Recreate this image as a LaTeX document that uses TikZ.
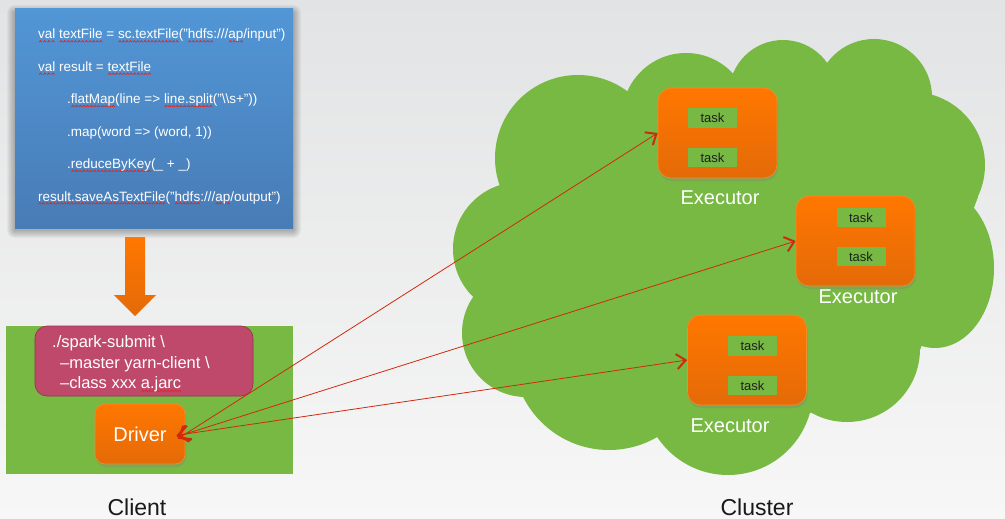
\documentclass[tikz,border=0pt]{standalone}
\usepackage{fontspec}
\setmainfont{Liberation Sans}
\usetikzlibrary{positioning,shadows,arrows.meta}

\definecolor{bgtop}{RGB}{226,227,228}
\definecolor{bgbot}{RGB}{247,247,247}
\definecolor{codetop}{RGB}{82,150,214}
\definecolor{codebot}{RGB}{72,124,182}
\definecolor{leafgreen}{RGB}{119,185,67}
\definecolor{boxorange}{RGB}{255,119,0}
\definecolor{boxorangedk}{RGB}{228,106,8}
\definecolor{boxedge}{RGB}{244,140,40}
\definecolor{submitred}{RGB}{191,73,107}
\definecolor{submitedge}{RGB}{150,48,80}
\definecolor{linkred}{RGB}{208,42,14}
\definecolor{spellred}{RGB}{225,35,30}
\definecolor{taskgray}{RGB}{30,34,30}

% wavy spell-check underline
\newsavebox\spellbox
\newcommand\spellwave[1]{\sbox\spellbox{#1}%
  \rlap{\raisebox{-3.5pt}[0pt][0pt]{\hbox to \wd\spellbox{\xleaders\hbox{\tikz[x=1pt,y=1pt]\draw[spellred,line width=.7pt] (0,0)--(1.4,1.6)--(2.8,0);}\hfil}}}%
  \usebox\spellbox}

\begin{document}
\begin{tikzpicture}[x=1pt, y=-1pt,
    codebox/.style={minimum width=278, minimum height=219, inner sep=0pt,
        top color=codetop, bottom color=codebot},
    codeline/.style={anchor=base west, inner sep=0pt, text=white,
        font=\fontsize{13.5}{16}\selectfont},
    submit/.style={minimum width=218, minimum height=70, inner sep=0pt,
        rounded corners=12pt, fill=submitred, draw=submitedge, line width=.6pt},
    submitline/.style={anchor=base west, inner sep=0pt, text=white,
        font=\fontsize{16.5}{19}\selectfont},
    exec/.style={minimum width=119, minimum height=90, inner sep=0pt,
        rounded corners=13pt, top color=boxorange, bottom color=boxorangedk,
        draw=boxedge, line width=.6pt,
        drop shadow={shadow xshift=1pt, shadow yshift=-3pt, opacity=.3}},
    task/.style={fill=leafgreen, minimum width=49, minimum height=19.5,
        inner sep=0pt, text=taskgray, font=\fontsize{13}{15}\selectfont},
    execlabel/.style={anchor=base, inner sep=0pt, text=white,
        font=\fontsize{20}{24}\selectfont},
    place/.style={anchor=base, inner sep=0pt, text=black!90,
        font=\fontsize{23}{27}\selectfont},
    link/.style={draw=linkred, line width=.8pt, shorten <=-9pt,
        {Straight Barb[length=10pt,width=16pt,line width=2.2pt]}-{Straight Barb[length=9pt,width=15pt,line width=2pt]}}
]

% background
\shade[top color=bgtop, bottom color=bgbot] (0,0) rectangle (1005,519);

% program
\foreach \s in {1,...,8}
    \fill[black, opacity=.035, rounded corners=\s pt] (15-\s,9-\s+4) rectangle (293+\s,228+\s+2);
\node[codebox] (code) at (154,118.5) {};
\node[codeline] (cl1) at (38,39) {\spellwave{val} \spellwave{textFile} = \spellwave{sc.textFile}("\spellwave{hdfs}:///\spellwave{ap}/input")};
\node[codeline] (cl2) at (38,71.4) {\spellwave{val} result = \spellwave{textFile}};
\node[codeline] (cl3) at (67,103.8) {.\spellwave{flatMap}(line => \spellwave{line.split}("\textbackslash\textbackslash s+"))};
\node[codeline] (cl4) at (67,136.2) {.map(word => (word, 1))};
\node[codeline] (cl5) at (67,168.6) {.\spellwave{reduceByKey}(\_ + \_)};
\node[codeline] (cl6) at (38,201) {\spellwave{result.saveAsTextFile}("\spellwave{hdfs}:///\spellwave{ap}/output")};

% submit arrow
\shade[top color=boxorange, bottom color=boxorangedk]
    (125,237) -- (145,237) -- (145,295) -- (156,295) -- (135,316)
    -- (114,295) -- (125,295) -- cycle;

% client side
\node[fill=leafgreen, minimum width=287, minimum height=148, inner sep=0pt] (client) at (149.5,400) {};
\node[submit] (submit) at (144,361) {};
\node[submitline] (sub1) at (52,347.5) {./spark-submit \textbackslash};
\node[submitline] (sub2) at (60,368.5) {–master yarn-client \textbackslash};
\node[submitline] (sub3) at (60,388.5) {–class xxx \spellwave{a.jarc}};
\node[exec, minimum width=90, minimum height=60, rounded corners=10pt,
    text=white, font=\fontsize{20}{24}\selectfont] (driver) at (140,434) {Driver};

% cluster cloud
\fill[leafgreen] (500,185) -- (627,92) -- (733,73) -- (827,63) -- (932,95) -- (978,197)
    -- (920,350) -- (810,413) -- (657,437) -- (523,397) -- (473,297) -- cycle;
\fill[leafgreen] (578,158) circle[radius=83pt] (686,117) circle[radius=64pt]
    (783,94) circle[radius=54pt] (874,97) circle[radius=58pt]
    (912,165) circle[radius=73pt] (935,268) ellipse[x radius=59pt, y radius=80pt]
    (847,349) circle[radius=73pt] (728,390) circle[radius=85pt]
    (609,354) circle[radius=96pt] (526,333) circle[radius=64pt]
    (520,249) circle[radius=67pt];

% executors
\node[exec] (e1) at (717.5,133) {};
\node[task] (e1t1) at (712.5,118) {task};
\node[task] (e1t2) at (712.5,157.5) {task};
\node[execlabel] (e1l) at (720,204) {Executor};

\node[exec] (e2) at (855.5,241) {};
\node[task] (e2t1) at (861,217.5) {task};
\node[task] (e2t2) at (861,256.5) {task};
\node[execlabel] (e2l) at (858,303) {Executor};

\node[exec] (e3) at (747,360) {};
\node[task] (e3t1) at (752.5,346) {task};
\node[task] (e3t2) at (752.5,385.5) {task};
\node[execlabel] (e3l) at (730,432) {Executor};

% links
\draw[link] (driver.east) -- (e1.west);
\draw[link] (driver.east) -- (e2.west);
\draw[link] (driver.east) -- (e3.west);

% places
\node[place] (clientl) at (137,515) {Client};
\node[place] (clusterl) at (757,515) {Cluster};

\end{tikzpicture}
\end{document}
